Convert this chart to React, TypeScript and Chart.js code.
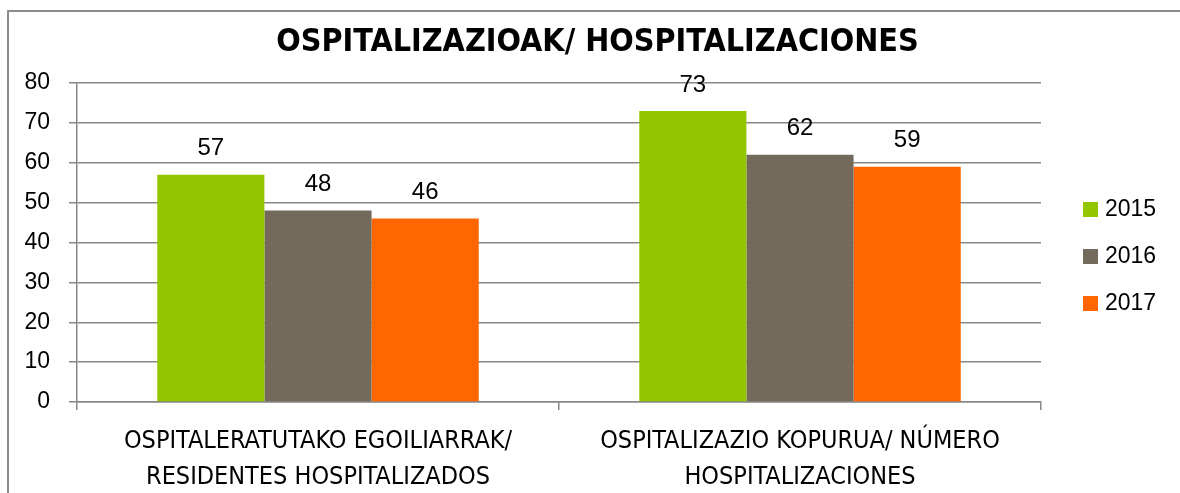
import React, { useEffect, useRef } from "react";
import { Chart, registerables } from "chart.js";

Chart.register(...registerables);

const categories: string[][] = [
  ["OSPITALERATUTAKO EGOILIARRAK/", "RESIDENTES HOSPITALIZADOS"],
  ["OSPITALIZAZIO KOPURUA/ NÚMERO", "HOSPITALIZACIONES"],
];
const seriesNames = ["2015", "2016", "2017"];
const values2015 = [57, 73];
const values2016 = [48, 62];
const values2017 = [46, 59];
const seriesColors = ["#94C600", "#736A5C", "#FF6600"];
const yTicks = [0, 10, 20, 30, 40, 50, 60, 70, 80];
const titleText = "OSPITALIZAZIOAK/ HOSPITALIZACIONES";

const NARROW = "'Liberation Sans Narrow', 'DejaVu Sans Condensed', 'Liberation Sans', sans-serif";
const NUM = "'Liberation Sans', sans-serif";
const GRID = "#878787";

const framePlugin = {
  id: "frame",
  beforeDraw(chart: any) {
    const ctx = chart.ctx;
    ctx.save();
    ctx.fillStyle = "#ffffff";
    ctx.fillRect(0, 0, chart.width, chart.height);
    ctx.strokeStyle = "#8c8c8c";
    ctx.lineWidth = 2;
    ctx.beginPath();
    ctx.moveTo(8, chart.height + 5);
    ctx.lineTo(8, 11);
    ctx.lineTo(chart.width + 5, 11);
    ctx.stroke();
    ctx.restore();
  },
};

const labelsPlugin = {
  id: "valueLabels",
  afterDatasetsDraw(chart: any) {
    const ctx = chart.ctx;
    ctx.save();
    ctx.fillStyle = "#000000";
    ctx.font = `24px ${NUM}`;
    ctx.textAlign = "center";
    ctx.textBaseline = "middle";
    chart.data.datasets.forEach((ds: any, i: number) => {
      const meta = chart.getDatasetMeta(i);
      meta.data.forEach((bar: any, j: number) => {
        ctx.fillText(String(ds.data[j]), bar.x, bar.y - 26);
      });
    });
    ctx.restore();
  },
};

const legendPlugin = {
  id: "sideLegend",
  afterDraw(chart: any) {
    const ctx = chart.ctx;
    ctx.save();
    ctx.font = `23px ${NUM}`;
    ctx.textBaseline = "middle";
    ctx.textAlign = "left";
    const startY = 209;
    const step = 47;
    chart.data.datasets.forEach((ds: any, i: number) => {
      const cy = startY + i * step;
      ctx.fillStyle = ds.backgroundColor;
      ctx.fillRect(1083, cy - 7, 15, 15);
      ctx.fillStyle = "#000000";
      ctx.fillText(ds.label, 1105, cy + 1);
    });
    ctx.restore();
  },
};

export default function App() {
  const ref = useRef<HTMLCanvasElement | null>(null);
  useEffect(() => {
    document.body.style.margin = "0";
    const canvas = ref.current;
    if (!canvas) return;
    const chart = new Chart(canvas, {
      type: "bar",
      data: {
        labels: categories,
        datasets: [
          { label: seriesNames[0], data: values2015, backgroundColor: seriesColors[0], yAxisID: "y" },
          { label: seriesNames[1], data: values2016, backgroundColor: seriesColors[1], yAxisID: "y" },
          { label: seriesNames[2], data: values2017, backgroundColor: seriesColors[2], yAxisID: "y" },
        ],
      },
      options: {
        responsive: false,
        animation: false,
        layout: { padding: { left: 15, right: 0, top: 0, bottom: 0 } },
        datasets: { bar: { categoryPercentage: 0.667, barPercentage: 1 } },
        plugins: {
          legend: { display: false },
          tooltip: { enabled: false },
          title: {
            display: true,
            text: titleText,
            color: "#000000",
            font: { family: NARROW, size: 32, weight: "bold", lineHeight: 1.2 },
            padding: { top: 23, bottom: 21.6 },
          },
        },
        scales: {
          x: {
            grid: { display: true, drawOnChartArea: false, drawTicks: true, tickLength: 8, color: GRID, lineWidth: 1.5, offset: true },
            border: { display: true, color: GRID, width: 1.5 },
            ticks: { color: "#000000", font: { family: NARROW, size: 25, lineHeight: 1.44 }, padding: 13, maxRotation: 0, autoSkip: false },
            afterFit(scale: any) { scale.height = 91; },
          },
          y: {
            position: "left",
            min: 0,
            max: 80,
            afterBuildTicks(scale: any) { scale.ticks = yTicks.map((v) => ({ value: v })); },
            grid: { color: GRID, lineWidth: 1.5, tickLength: 8 },
            border: { display: true, color: GRID, width: 1.5 },
            ticks: { color: "#000000", font: { family: NUM, size: 23 }, padding: 19 },
            afterFit(scale: any) { scale.width = 62; },
          },
          legendSpace: {
            type: "linear",
            position: "right",
            display: true,
            grid: { display: false, drawTicks: false },
            border: { display: false },
            ticks: { display: false },
            afterFit(scale: any) { scale.width = 139; },
          },
        },
      },
      plugins: [framePlugin, labelsPlugin, legendPlugin],
    });
    return () => chart.destroy();
  }, []);
  return (
    <div style={{ width: 1180, height: 493 }}>
      <canvas ref={ref} width={1180} height={493} style={{ display: "block" }} />
    </div>
  );
}
